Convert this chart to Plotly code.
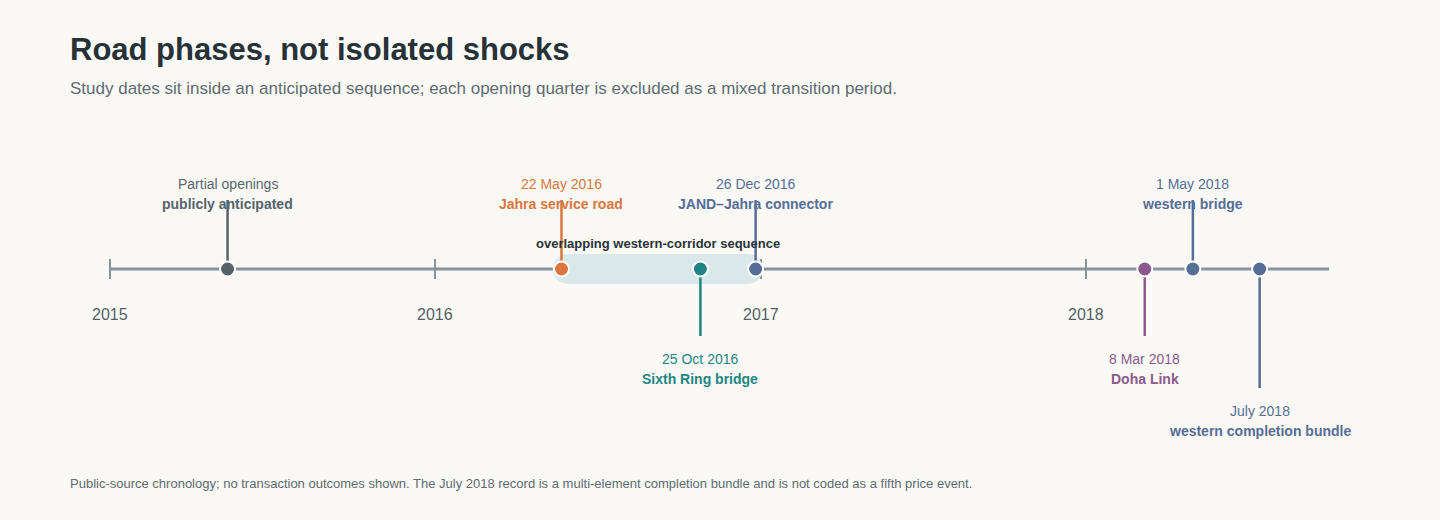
import pandas as pd
import plotly.graph_objects as go

# Timeline data
year_ticks = ["2015-01-01", "2016-01-01", "2017-01-01", "2018-01-01"]
year_labels = ["2015", "2016", "2017", "2018"]
axis_start = "2015-01-01"
axis_end = "2018-10-01"

event_dates = ["2015-05-13", "2016-05-22", "2016-10-25", "2016-12-26",
               "2018-03-08", "2018-05-01", "2018-07-15"]
event_top_text = ["Partial openings", "22 May 2016", "25 Oct 2016", "26 Dec 2016",
                  "8 Mar 2018", "1 May 2018", "July 2018"]
event_names = ["publicly anticipated", "Jahra service road", "Sixth Ring bridge",
               "JAND\u2013Jahra connector", "Doha Link", "western bridge",
               "western completion bundle"]
event_side = ["up", "up", "down", "up", "down", "up", "down_far"]

band_dates = ["2016-05-29", "2016-12-17"]
band_label = "overlapping western-corridor sequence"

# Styling
colors = ["#56636b", "#d9773e", "#1e8585", "#566e96", "#8c5a8c", "#566e96", "#566e96"]
date_colors = ["#5b676e", "#d9773e", "#1e8585", "#566e96", "#8c5a8c", "#566e96", "#566e96"]
FONT = "Liberation Sans, Arial, sans-serif"
AXIS_COLOR = "#87959b"
BG = "#faf9f6"

# pixel-ish vertical layout (timeline at 0, up is positive)
stem_end = {"up": 69, "down": -67, "down_far": -119}
line1_y = {"up": 85, "down": -90, "down_far": -142}
line2_y = {"up": 65, "down": -110, "down_far": -162}

fig = go.Figure()

# main axis line
fig.add_trace(go.Scatter(x=[axis_start, axis_end], y=[0, 0], mode="lines",
                         line=dict(color=AXIS_COLOR, width=3), hoverinfo="skip"))

# year ticks
for d in year_ticks:
    fig.add_trace(go.Scatter(x=[d, d], y=[-10, 10], mode="lines",
                             line=dict(color=AXIS_COLOR, width=2), hoverinfo="skip"))

# overlap band (capsule)
fig.add_trace(go.Scatter(x=band_dates, y=[0, 0], mode="lines+markers",
                         line=dict(color="#dbe8ea", width=30),
                         marker=dict(color="#dbe8ea", size=30, line=dict(width=0)),
                         hoverinfo="skip"))

# stems
for d, side, c in zip(event_dates, event_side, colors):
    fig.add_trace(go.Scatter(x=[d, d], y=[0, stem_end[side]], mode="lines",
                             line=dict(color=c, width=2.5), hoverinfo="skip"))

# event markers
fig.add_trace(go.Scatter(x=event_dates, y=[0] * len(event_dates), mode="markers",
                         marker=dict(color=colors, size=15, line=dict(color="white", width=2)),
                         hovertext=event_names, hoverinfo="text"))

annotations = []
for d, top, name, side, c, dc in zip(event_dates, event_top_text, event_names,
                                     event_side, colors, date_colors):
    annotations.append(dict(x=d, y=line1_y[side], text=top, showarrow=False,
                            font=dict(family=FONT, size=14, color=dc),
                            xanchor="center", yanchor="middle"))
    annotations.append(dict(x=d, y=line2_y[side], text="<b>" + name + "</b>", showarrow=False,
                            font=dict(family=FONT, size=14, color=c),
                            xanchor="center", yanchor="middle"))

mid_band = pd.Timestamp(band_dates[0]) + (pd.Timestamp(band_dates[1]) - pd.Timestamp(band_dates[0])) / 2
annotations.append(dict(x=mid_band, y=26, text="<b>" + band_label + "</b>", showarrow=False,
                        font=dict(family=FONT, size=13, color="#2a3338"),
                        xanchor="center", yanchor="middle"))

for d, lab in zip(year_ticks, year_labels):
    annotations.append(dict(x=d, y=-45, text=lab, showarrow=False,
                            font=dict(family=FONT, size=16, color="#555f66"),
                            xanchor="center", yanchor="middle"))

# title, subtitle, footer
annotations.append(dict(xref="paper", yref="paper", x=68 / 1440, y=1 - 50 / 520,
                        text="<b>Road phases, not isolated shocks</b>", showarrow=False,
                        xanchor="left", yanchor="middle",
                        font=dict(family=FONT, size=31, color="#263238")))
annotations.append(dict(xref="paper", yref="paper", x=68 / 1440, y=1 - 88 / 520,
                        text="Study dates sit inside an anticipated sequence; each opening quarter is excluded as a mixed transition period.",
                        showarrow=False, xanchor="left", yanchor="middle",
                        font=dict(family=FONT, size=17, color="#5f6b72")))
annotations.append(dict(xref="paper", yref="paper", x=68 / 1440, y=1 - 483 / 520,
                        text="Public-source chronology; no transaction outcomes shown. The July 2018 record is a multi-element completion bundle and is not coded as a fifth price event.",
                        showarrow=False, xanchor="left", yanchor="middle",
                        font=dict(family=FONT, size=13, color="#5f6b72")))

# x range so that 2015 -> 110px and 2018 -> 1086px across 1440px
t0 = pd.Timestamp(year_ticks[0])
t3 = pd.Timestamp(year_ticks[3])
px_per_day = (1086 - 110) / (t3 - t0).days
x_lo = t0 - pd.Timedelta(days=110 / px_per_day)
x_hi = t0 + pd.Timedelta(days=(1440 - 110) / px_per_day)

fig.update_layout(
    width=1440, height=520,
    margin=dict(l=0, r=0, t=0, b=0),
    paper_bgcolor=BG, plot_bgcolor=BG,
    showlegend=False,
    xaxis=dict(type="date", range=[x_lo, x_hi], visible=False, fixedrange=True),
    yaxis=dict(range=[-(520 - 269), 269], visible=False, fixedrange=True),
    annotations=annotations,
)

fig.write_html("out.html", config={"displayModeBar": False},
               post_script="document.body.style.margin='0';document.body.style.background='" + BG + "';")
